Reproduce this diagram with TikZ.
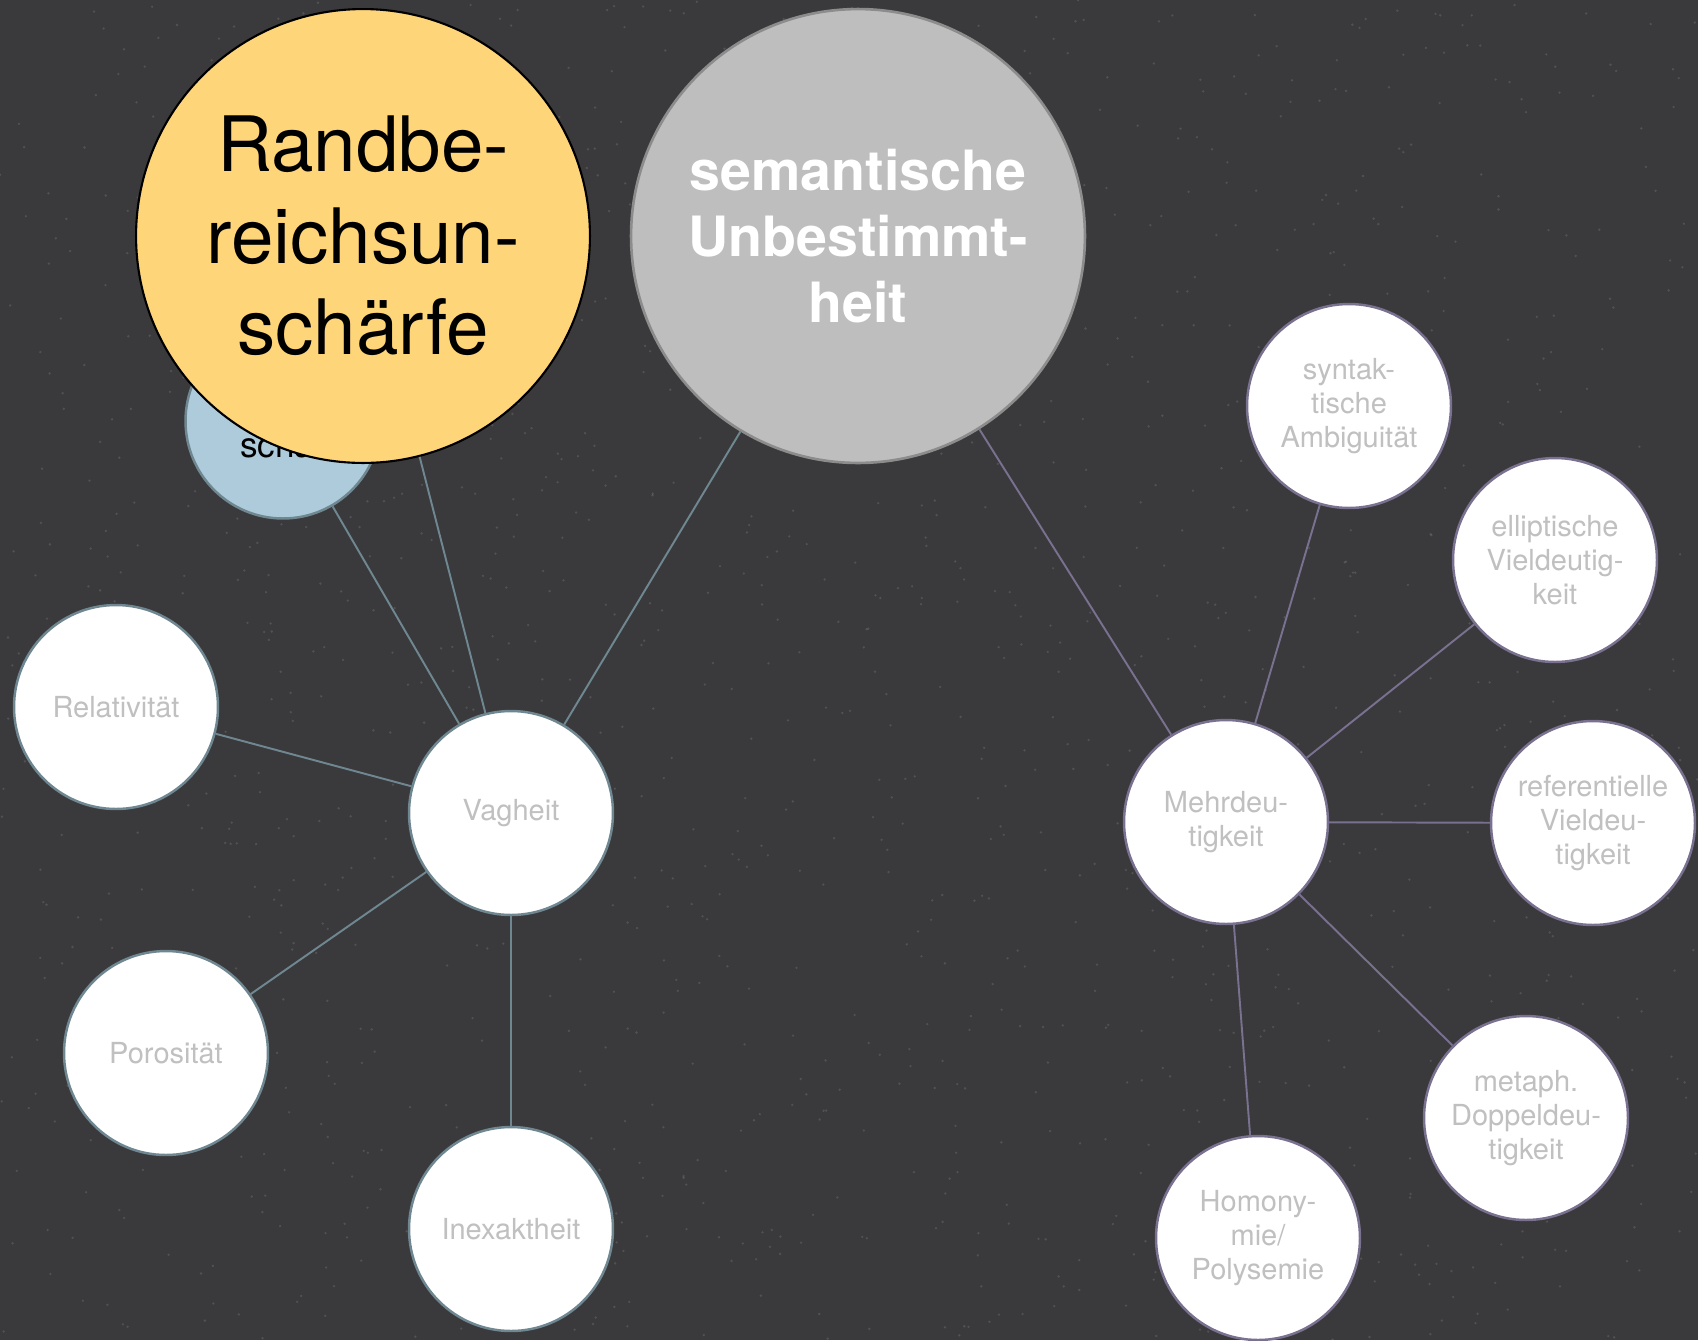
\documentclass[tikz,border=0pt]{standalone}
\usepackage{fontspec}
\setmainfont{TeX Gyre Heros}

\definecolor{board}{HTML}{3A3A3C}
\definecolor{slate}{HTML}{6F8791}
\definecolor{mauve}{HTML}{7A7090}
\definecolor{paleblue}{HTML}{AECBDB}
\definecolor{butter}{HTML}{FFD57A}
\definecolor{stone}{HTML}{BEBEBE}
\definecolor{rim}{HTML}{8C8C8C}
\definecolor{fog}{HTML}{C0C0C0}

\tikzset{
  leaf/.style={circle,fill=white,draw,line width=1.4pt,minimum size=4.08cm,inner sep=0pt,align=center,text=fog,font=\fontsize{16.5}{19.5}\selectfont},
  vleaf/.style={leaf,draw=slate},
  mleaf/.style={leaf,draw=mauve},
  vlink/.style={slate,line width=1.1pt},
  mlink/.style={mauve,line width=1.1pt}
}

\begin{document}
\begin{tikzpicture}[x=0.02cm,y=-0.02cm]
    \fill[board] (0,0) rectangle (1698,1340);
    \useasboundingbox (0,0) rectangle (1698,1340);
    % speckled board
    \pgfmathsetseed{7}
    \foreach \i in {1,...,1400}
        \fill[white,opacity=0.12] (rnd*1698,rnd*1340) circle (1.3);

    \node[vleaf] (vag) at (511,813) {Vagheit};
    \node[vleaf] (rel) at (116,707) {Relativität};
    \node[vleaf] (por) at (166,1053) {Porosität};
    \node[vleaf] (inex) at (511,1229) {Inexaktheit};

    \node[mleaf] (mehr) at (1226,822) {Mehrdeu-\\tigkeit};
    \node[mleaf] (synt) at (1349,406) {syntak-\\tische\\Ambiguität};
    \node[mleaf] (ellip) at (1555,560) {elliptische\\Vieldeutig-\\keit};
    \node[mleaf] (ref) at (1593,823) {referentielle\\Vieldeu-\\tigkeit};
    \node[mleaf] (meta) at (1526,1118) {metaph.\\Doppeldeu-\\tigkeit};
    \node[mleaf] (homo) at (1258,1238) {Homony-\\mie/\\Polysemie};

    \node[circle,fill=paleblue,draw=slate,line width=1.4pt,minimum size=3.9cm,inner sep=0pt,align=center,font=\fontsize{20}{24}\selectfont] (unsch) at (283,421) {\mbox{}\\[18pt]\hspace*{0.6cm}schärfe};
    \node[circle,fill=butter,draw=black,line width=1.2pt,minimum size=9.08cm,inner sep=0pt,align=center,font=\fontsize{43.5}{52}\selectfont] (rand) at (363,236) {Randbe-\\reichsun-\\schärfe};
    \node[circle,fill=stone,draw=rim,line width=1.5pt,minimum size=9.08cm,inner sep=0pt,align=center,text=white,font=\bfseries\fontsize{31.6}{37.5}\selectfont] (sem) at (858,236) {semantische\\Unbestimmt-\\heit};

    \draw[vlink] (unsch) -- (vag);
    \draw[vlink] (rand) -- (vag);
    \draw[vlink] (sem) -- (vag);
    \foreach \n in {rel,por,inex}
        \draw[vlink] (\n) -- (vag);

    \draw[mlink] (sem) -- (mehr);
    \foreach \n in {synt,ellip,ref,meta,homo}
        \draw[mlink] (\n) -- (mehr);
\end{tikzpicture}
\end{document}
